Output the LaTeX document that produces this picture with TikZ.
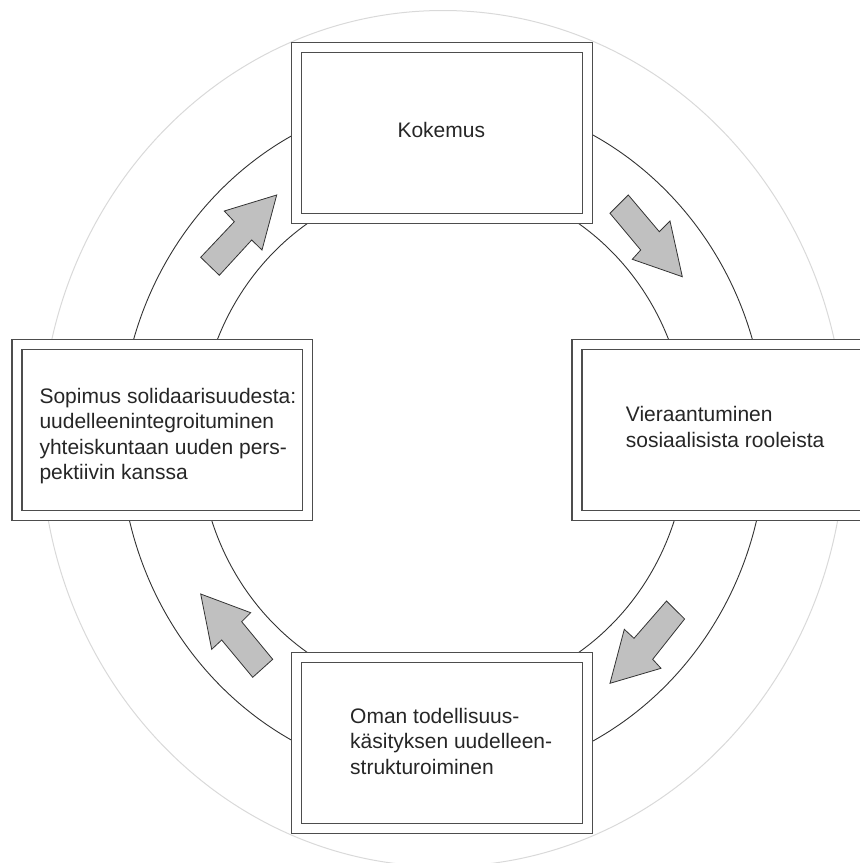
\documentclass[tikz,border=0pt]{standalone}
\usepackage{fontspec}
\setmainfont{Liberation Sans}
\definecolor{ringlight}{HTML}{D9D9D9}
\definecolor{ringdark}{HTML}{333333}
\definecolor{boxline}{HTML}{4D4D4D}
\definecolor{arrowfill}{HTML}{C0C0C0}
\begin{document}
\begin{tikzpicture}[x=1pt,y=-1pt,
  ring/.style={draw=ringdark,line width=0.9pt},
  lightring/.style={draw=ringlight,line width=1pt},
  stagebox/.style={draw=boxline,line width=1.3pt,double=white,double distance=8.7pt,fill=white,minimum width=290.6pt,minimum height=171pt,inner sep=0pt},
  stagetext/.style={anchor=base west,inner sep=0pt,font=\fontsize{21}{25.5}\selectfont,text=black!85},
  blockarrow/.style={fill=arrowfill,draw=ringdark,line width=0.8pt,line join=miter}
]
\useasboundingbox (0,0) rectangle (860,863);
\clip (0,0) rectangle (860,863);
\draw[lightring] (443,438.5) ellipse [x radius=402pt, y radius=428pt];
\draw[ring] (443,438) ellipse [x radius=323pt, y radius=342pt];
\draw[ring] (443,438) ellipse [x radius=244pt, y radius=258pt];
\node[stagebox] (top) at (442,133.3) {};
\node[stagebox] (right) at (722.2,430.3) {};
\node[stagebox] (bottom) at (442,743.3) {};
\node[stagebox] (left) at (162.3,430.3) {};
\node[stagetext] (ttop) at (397.3,137.3) {Kokemus};
\node[stagetext] (tright) at (625.7,421.7) {\begin{tabular}[t]{@{}l@{}}Vieraantuminen\\sosiaalisista rooleista\end{tabular}};
\node[stagetext] (tbottom) at (350,723.3) {\begin{tabular}[t]{@{}l@{}}Oman todellisuus-\\käsityksen uudelleen-\\strukturoiminen\end{tabular}};
\node[stagetext] (tleft) at (39.3,403.3) {\begin{tabular}[t]{@{}l@{}}Sopimus solidaarisuudesta:\\uudelleenintegroituminen\\yhteiskuntaan uuden pers-\\pektiivin kanssa\end{tabular}};
\draw[blockarrow] (276.7,195) -- (224.3,211) -- (234.3,221.7) -- (200.7,257.3) -- (219.3,275.3) -- (251.7,240) -- (262,250) -- cycle;
\draw[blockarrow] (628.3,195) -- (659.3,231.7) -- (670,221) -- (682.3,276.7) -- (632.3,259.3) -- (640.7,250) -- (610,213.3) -- cycle;
\draw[blockarrow] (666.5,601) -- (684.6,619) -- (652.7,659.3) -- (661,668.3) -- (610,683.3) -- (624.3,629.3) -- (634,638.3) -- cycle;
\draw[blockarrow] (200.7,594) -- (250.7,612.7) -- (241.7,621.7) -- (272.7,659.3) -- (252.7,677.3) -- (221.7,640) -- (211.7,649.3) -- cycle;
\end{tikzpicture}
\end{document}
